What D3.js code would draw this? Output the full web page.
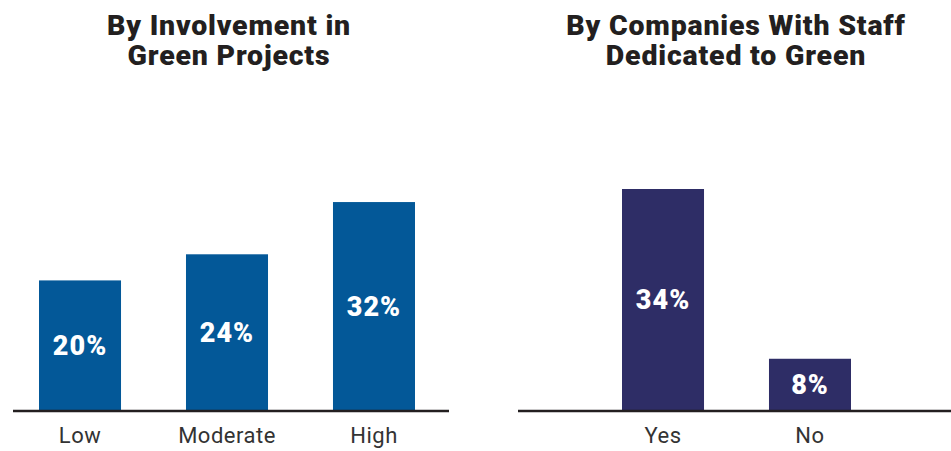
<!DOCTYPE html>
<html><head><meta charset="utf-8">
<script src="https://cdn.jsdelivr.net/npm/d3@7"></script>
<style>body{margin:0;background:#fff}svg{display:block}</style>
</head><body>
<svg id="c" width="951" height="451"></svg>
<script>
const leftTitle = ["By Involvement in", "Green Projects"];
const leftCategories = ["Low", "Moderate", "High"];
const leftValues = [20, 24, 32];
const rightTitle = ["By Companies With Staff", "Dedicated to Green"];
const rightCategories = ["Yes", "No"];
const rightValues = [34, 8];

const svg = d3.select("#c");
const baseY = 411;
const y = d3.scaleLinear().domain([0, 34]).range([baseY, 189]);

function panel(cfg) {
  const g = svg.append("g");
  const x = d3.scaleBand().domain(cfg.cats).range(cfg.barRange).paddingInner(0.442).paddingOuter(0);
  g.selectAll("text.t").data(cfg.title).join("text")
    .attr("x", cfg.titleX).attr("y", (d, i) => 35 + i * 30)
    .attr("text-anchor", "middle")
    .style("font-family", "Roboto, sans-serif").style("font-weight", 900)
    .style("font-size", "28.5px").style("letter-spacing", "0.8px").style("fill", "#231f20")
    .text(d => d);
  g.selectAll("rect").data(cfg.vals).join("rect")
    .attr("x", (d, i) => x(cfg.cats[i])).attr("width", x.bandwidth())
    .attr("y", d => y(d)).attr("height", d => baseY - y(d))
    .attr("fill", cfg.color);
  g.selectAll("text.v").data(cfg.vals).join("text")
    .attr("x", (d, i) => x(cfg.cats[i]) + x.bandwidth() / 2)
    .attr("y", d => (y(d) + baseY) / 2 + 9)
    .attr("text-anchor", "middle")
    .style("font-family", "Roboto, sans-serif").style("font-weight", 900)
    .style("font-size", "27px").style("letter-spacing", "1px").style("fill", "#fff")
    .text(d => d + "%");
  const axis = d3.axisBottom(x).tickSize(0).tickPadding(16);
  const ag = g.append("g").attr("transform", `translate(0,${baseY})`).call(axis);
  ag.select(".domain").remove();
  ag.selectAll("text").style("font-family", "Roboto, sans-serif").style("font-size", "22px")
    .style("letter-spacing", "0.5px").style("fill", "#333").attr("dy", "0.71em");
  g.append("line").attr("x1", cfg.line[0]).attr("x2", cfg.line[1])
    .attr("y1", baseY).attr("y2", baseY).attr("stroke", "#231f20").attr("stroke-width", 2.5);
}

panel({title: leftTitle, cats: leftCategories, vals: leftValues, barRange: [39, 415], line: [13, 449], titleX: 229, color: "#035898"});
panel({title: rightTitle, cats: rightCategories, vals: rightValues, barRange: [622, 851], line: [518, 951], titleX: 736, color: "#2e2d66"});
</script>
</body></html>
